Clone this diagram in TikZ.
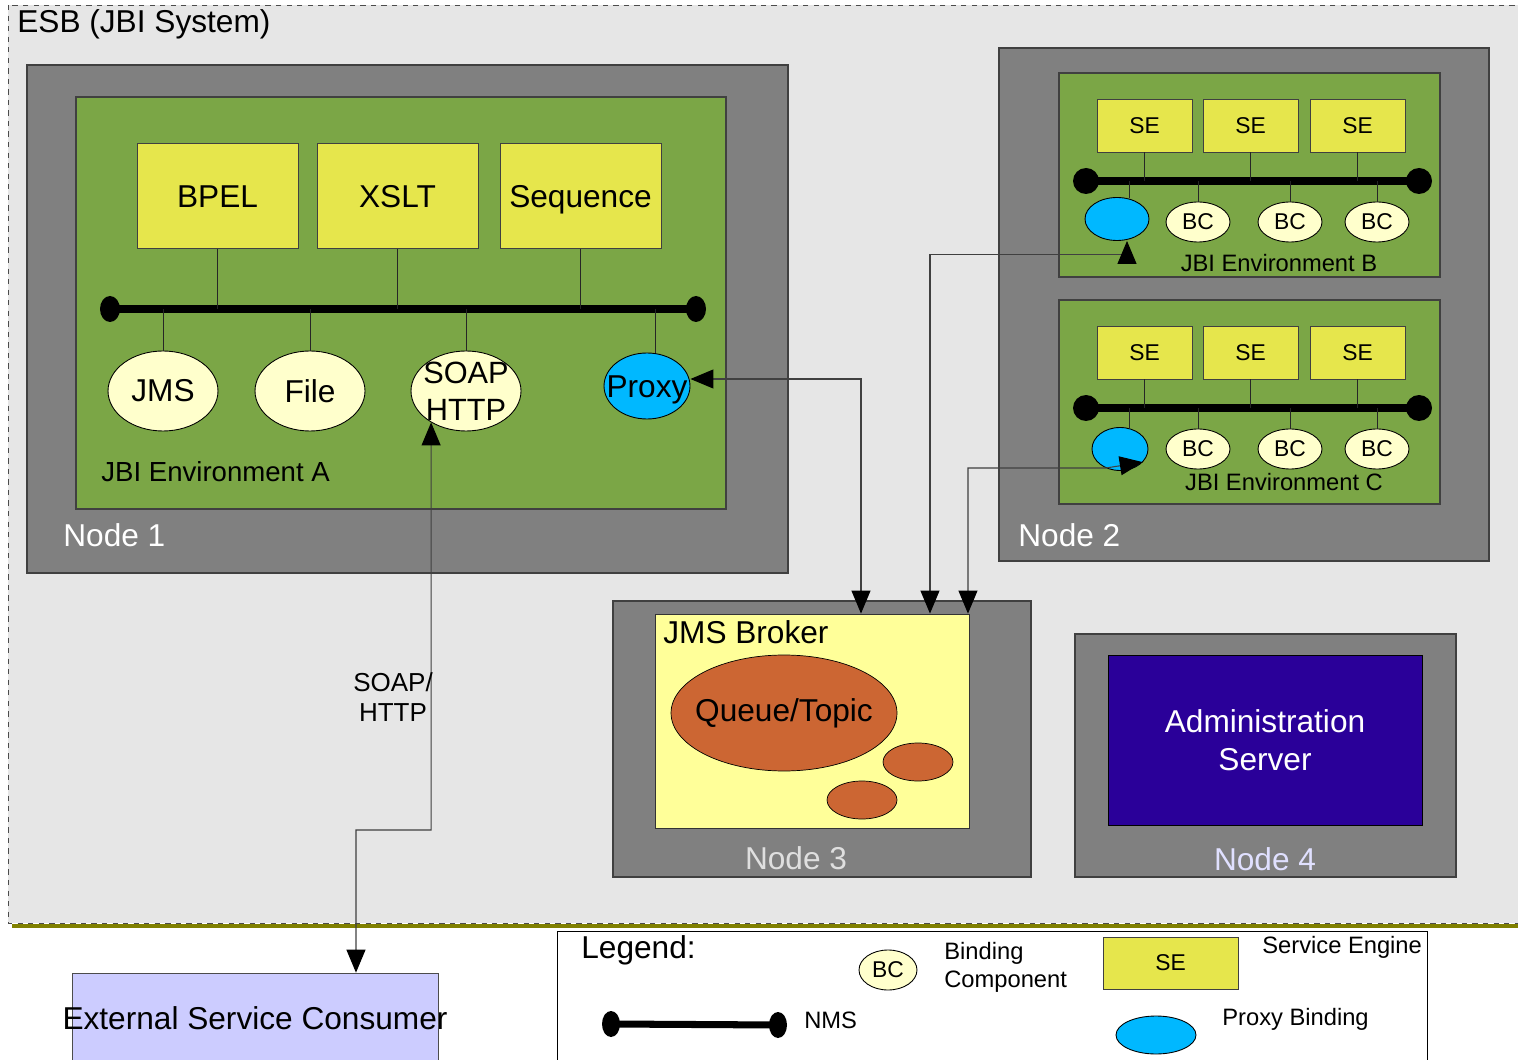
\documentclass[tikz,border=0pt]{standalone}
\usepackage{fontspec}
\setmainfont{Liberation Sans}
\usetikzlibrary{arrows.meta,shapes.geometric}

\definecolor{esbgray}{HTML}{E6E6E6}
\definecolor{hostgray}{HTML}{808080}
\definecolor{envgreen}{HTML}{7BA646}
\definecolor{seyellow}{HTML}{E6E64C}
\definecolor{bcyellow}{HTML}{FFFFCC}
\definecolor{proxyblue}{HTML}{00B8FF}
\definecolor{brokeryellow}{HTML}{FFFF99}
\definecolor{queueorange}{HTML}{CC6633}
\definecolor{adminblue}{HTML}{2A0099}
\definecolor{consumerblue}{HTML}{CCCCFF}
\definecolor{oliveline}{HTML}{808000}
\definecolor{lavender}{HTML}{E0E0FF}

\tikzset{
  bigtext/.style={font=\fontsize{18}{21}\selectfont},
  midtext/.style={font=\fontsize{15.7}{18}\selectfont},
  smalltext/.style={font=\fontsize{13.5}{16}\selectfont},
  esbarea/.style={draw=black!70, dashed, fill=esbgray, line width=0.5pt},
  hostbox/.style={draw=black!75, fill=hostgray, line width=0.6pt},
  envbox/.style={draw=black!75, fill=envgreen, line width=0.6pt},
  sebox/.style={rectangle, draw=black!75, fill=seyellow, line width=0.5pt},
  bcnode/.style={ellipse, draw=black, fill=bcyellow, line width=0.5pt},
  proxynode/.style={ellipse, draw=black, fill=proxyblue, line width=0.5pt},
  busdot/.style={ellipse, fill=black, minimum height=0.52cm},
  busline/.style={line width=4pt},
  wire/.style={black!85, line width=0.5pt},
  msg/.style={black!75, line width=0.6pt,
    {Triangle[length=4.6mm,width=3.8mm,color=black]}-{Triangle[length=4.6mm,width=3.8mm,color=black]}},
}

\begin{document}
\begin{tikzpicture}[x=0.02cm, y=-0.02cm, every node/.style={inner sep=0pt}]
  \useasboundingbox (0,0) rectangle (1518,1060);

  % draw ESB area
  \draw[esbarea] (8,5) rectangle (1530,923);
  \draw[oliveline, line width=2.3pt] (12,926) -- (1518,926);
  \node[bigtext, anchor=west] (esbtitle) at (17,24) {ESB (JBI System)};

  % draw node 1 with JBI environment A
  \draw[hostbox] (27,65) rectangle (788,573);
  \draw[envbox] (76,97) rectangle (726,509);
  \node[bigtext, white, anchor=west] (nodeone) at (63,535) {Node 1};
  \node[midtext, anchor=west] (envAtext) at (101,472) {JBI Environment A};
  \foreach \name/\x/\txt in {bpel/217.5/BPEL, xslt/397.5/XSLT, seq/580.5/Sequence}
    \node[sebox, bigtext, text height=15pt, text depth=2.1pt,
      minimum width=3.22cm, minimum height=2.1cm] (\name) at (\x,196) {\txt};
  \draw[busline] (110,309) -- (696,309);
  \node[busdot, minimum width=0.4cm] (busAl) at (110,309) {};
  \node[busdot, minimum width=0.4cm] (busAr) at (696,309) {};
  \foreach \name in {bpel,xslt,seq}
    \draw[wire] (\name.south) -- (\name.south |- busAl.center);
  \foreach \name/\x/\txt in {jms/163/JMS, file/310/File}
    \node[bcnode, bigtext, minimum width=2.2cm, minimum height=1.6cm] (\name) at (\x,391) {\txt};
  \node[bcnode, minimum width=2.2cm, minimum height=1.6cm] (soap) at (466,391) {};
  \node[font=\fontsize{17.5}{21}\selectfont, align=center] (soaptext) at (soap) {SOAP\\HTTP};
  \node[proxynode, minimum width=1.72cm, minimum height=1.32cm] (proxyA) at (647,386) {};
  \node[bigtext, text height=15pt, text depth=2.1pt] (proxyAtext) at (proxyA) {Proxy};
  \foreach \name in {jms,file,soap}
    \draw[wire] (\name.north) -- (\name.north |- busAl.center);
  \draw[wire] ([xshift=0.16cm]proxyA.north) -- ([xshift=0.16cm]proxyA.north |- busAr.center);

  % draw node 2 with JBI environments B and C
  \draw[hostbox] (999,48) rectangle (1489,561);
  \node[bigtext, white, anchor=west] (nodetwo) at (1018,535) {Node 2};
  \foreach \env/\dy/\px/\py/\pw/\lx/\ly in {B/0/1117/219/1.28/1279/263, C/227/1120/449/1.12/1284/482} {
    \draw[envbox] (1059,{73+\dy}) rectangle (1440,{277+\dy});
    \node[smalltext] (env\env text) at (\lx,\ly) {JBI Environment \env};
    \draw[busline] (1086,{181+\dy}) -- (1419,{181+\dy});
    \node[busdot, minimum width=0.52cm] (bus\env l) at (1086,{181+\dy}) {};
    \node[busdot, minimum width=0.52cm] (bus\env r) at (1419,{181+\dy}) {};
    \foreach \i/\x in {1/1144.5, 2/1250.5, 3/1357.5} {
      \node[sebox, font=\fontsize{13}{15}\selectfont, minimum width=1.9cm, minimum height=1.06cm]
        (se\env\i) at (\x,{125.5+\dy}) {SE};
      \draw[wire] (se\env\i.south) -- (se\env\i.south |- bus\env l.center);
    }
    \foreach \i/\x in {1/1198, 2/1290, 3/1377} {
      \node[bcnode, font=\fontsize{13}{15}\selectfont, minimum width=1.28cm, minimum height=0.8cm]
        (bc\env\i) at (\x,{222+\dy}) {BC};
      \draw[wire] (bc\env\i.north) -- (bc\env\i.north |- bus\env l.center);
    }
    \node[proxynode, minimum width=\pw cm, minimum height=0.86cm] (proxy\env) at (\px,\py) {};
    \draw[wire] (1129,{\py-21}) -- (1129,{181+\dy});
  }

  % draw node 3 with JMS broker
  \draw[hostbox] (613,601) rectangle (1031,877);
  \node[rectangle, draw=black!80, fill=brokeryellow, line width=0.5pt,
    minimum width=6.28cm, minimum height=4.28cm] (broker) at (812,721) {};
  \node[bigtext, anchor=west] (brokertext) at (663,632) {JMS Broker};
  \node[ellipse, draw=black, fill=queueorange, minimum width=4.52cm, minimum height=2.32cm] (queue) at (784,713) {};
  \node[bigtext] (queuetext) at (queue) {Queue/Topic};
  \node[ellipse, draw=black, fill=queueorange, minimum width=1.4cm, minimum height=0.76cm] (queuetwo) at (918,762) {};
  \node[ellipse, draw=black, fill=queueorange, minimum width=1.4cm, minimum height=0.76cm] (queuethree) at (862,800) {};
  \node[bigtext, gray!25] (nodethree) at (796,858) {Node 3};

  % draw node 4 with administration server
  \draw[hostbox] (1075,634) rectangle (1456,877);
  \node[rectangle, draw=black, fill=adminblue, text=white, align=center, font=\fontsize{18}{21.5}\selectfont,
    minimum width=6.28cm, minimum height=3.4cm] (admin) at (1265,740) {Administration\\Server};
  \node[bigtext, lavender] (nodefour) at (1265,859) {Node 4};

  % draw external consumer
  \node[rectangle, draw=black!70, fill=consumerblue, minimum width=7.32cm, minimum height=2cm] (consumer) at (255,1023) {};
  \node[bigtext] (consumertext) at (255,1018) {External Service Consumer};

  % draw legend
  \draw[draw=black, fill=white, line width=0.5pt] (557,931) rectangle (1427,1075);
  \node[bigtext, anchor=west] (legendtext) at (581,950) {Legend:};
  \node[bcnode, font=\fontsize{13}{15}\selectfont, minimum width=1.16cm, minimum height=0.8cm] (legbc) at (888,970) {BC};
  \node[smalltext, anchor=west, align=left] (legbctext) at (944,967) {Binding\\Component};
  \node[sebox, font=\fontsize{13}{15}\selectfont, minimum width=2.7cm, minimum height=1.04cm] (legse) at (1170.5,963) {SE};
  \node[smalltext, anchor=west] (legsetext) at (1262,947) {Service Engine};
  \draw[busline] (611,1024) -- (778,1025);
  \node[busdot, minimum width=0.36cm] (legbusl) at (611,1024) {};
  \node[busdot, minimum width=0.36cm] (legbusr) at (778,1025) {};
  \node[smalltext, anchor=west] (legbustext) at (804,1020) {NMS};
  \node[proxynode, minimum width=1.6cm, minimum height=0.76cm] (legproxy) at (1156,1035) {};
  \node[smalltext, anchor=west] (legproxytext) at (1222,1019) {Proxy Binding};

  % draw message routes
  \coordinate (proxyCbend) at (1106,468);
  \coordinate (soapbend) at (356,830);
  \draw[msg] ([yshift=0.14cm]proxyA.east) -| ([xshift=0.98cm]broker.north);
  \draw[msg] ([xshift=2.36cm]broker.north) |- ([xshift=0.2cm,yshift=-0.28cm]proxyB.south) -- ([xshift=0.2cm]proxyB.south);
  \draw[msg] ([xshift=3.12cm]broker.north) |- (proxyCbend) -- (proxyC.-30);
  \draw[msg] (soap.-138) |- (soapbend) -- ([xshift=2.02cm]consumer.north);
  \node[font=\fontsize{14.8}{17.5}\selectfont, align=center] (soaplabel) at (393,697) {SOAP/\\HTTP};
\end{tikzpicture}
\end{document}
